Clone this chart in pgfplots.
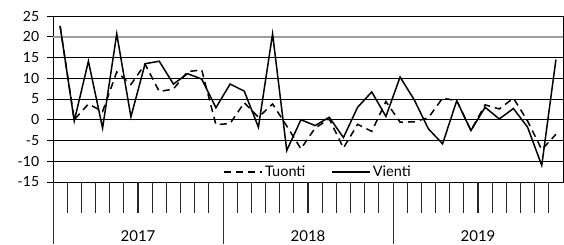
\documentclass[border=0pt]{standalone}
\usepackage{fontspec}
\setmainfont{Lato}
\usepackage{pgfplots}
\usepackage{pgfplotstable}
\pgfplotsset{compat=1.18}
\pgfplotstableread{
i v t
0 22.6 22.6
1 -0.3 0.0
2 14.1 3.8
3 -2.0 2.0
4 20.7 11.5
5 0.7 8.5
6 13.5 13.4
7 14.1 6.8
8 8.6 7.4
9 11.1 11.6
10 9.8 12.0
11 2.9 -1.2
12 8.6 -0.9
13 6.9 4.1
14 -1.8 0.6
15 20.7 3.8
16 -7.4 -1.5
17 0.0 -7.0
18 -1.4 -2.0
19 0.6 0.2
20 -4.3 -6.8
21 3.0 -1.1
22 6.7 -2.8
23 0.8 4.4
24 10.3 -0.6
25 4.8 -0.5
26 -2.2 0.5
27 -5.8 5.2
28 4.6 4.6
29 -2.6 -2.6
30 3.0 3.6
31 0.2 2.6
32 2.7 5.2
33 -1.8 -0.3
34 -11.0 -7.2
35 14.5 -3.5
}\data
\begin{document}
\fontsize{14}{16}\selectfont
\begin{tikzpicture}
\useasboundingbox (-53pt,-62pt) rectangle (511pt,182pt);
\begin{axis}[
  at={(0,0)}, anchor=south west,
  scale only axis, width=510pt, height=166pt,
  xmin=-0.5, xmax=35.5, ymin=-15, ymax=25,
  ytick={-15,-10,-5,0,5,10,15,25},
  extra y ticks={20},
  extra y tick style={grid style={gray!75,line width=1.6pt}},
  ymajorgrids,
  grid style={black,line width=0.7pt},
  xtick=\empty,
  major tick length=6pt, tick align=outside,
  every major tick/.append style={line width=0.7pt, black},
  axis line style={line width=0.8pt},
  x axis line style={line width=1.3pt},
  /pgf/number format/assume math mode=true,
  yticklabel style={font=\fontsize{14}{16}\selectfont, xshift=-3pt},
  clip=false,
  legend style={at={(0.52,0.06)}, anchor=center, draw=none, fill=none,
    legend columns=2, font=\fontsize{14.5}{16}\selectfont,
    /tikz/every even column/.append style={column sep=24pt},
    /tikz/every odd column/.append style={column sep=0pt},
    inner sep=0pt},
  legend image code/.code={\draw[#1] (0pt,0pt) -- (38pt,0pt);},
]
\addplot[black, line width=1.5pt, dash pattern=on 7pt off 5pt] table[x=i,y=t] {\data};
\addlegendentry{Tuonti}
\addplot[black, line width=1.5pt] table[x=i,y=v] {\data};
\addlegendentry{Vienti}
\pgfplotsinvokeforeach{0.5,1.5,2.5,3.5,4.5,5.5,6.5,7.5,8.5,9.5,10.5,12.5,13.5,14.5,15.5,16.5,17.5,18.5,19.5,20.5,21.5,22.5,24.5,25.5,26.5,27.5,28.5,29.5,30.5,31.5,32.5,33.5,34.5}{
  \draw[line width=1.1pt, black!85] (axis cs:#1,-15) -- ([yshift=-31pt]axis cs:#1,-15);
}
\pgfplotsinvokeforeach{-0.5,11.5,23.5}{
  \draw[line width=0.9pt, black!80] (axis cs:#1,-15) -- ([yshift=-62pt]axis cs:#1,-15);
}
\node[font=\fontsize{15}{16}\selectfont] at ([yshift=-54pt]axis cs:5.5,-15) {2017};
\node[font=\fontsize{15}{16}\selectfont] at ([yshift=-54pt]axis cs:17.5,-15) {2018};
\node[font=\fontsize{15}{16}\selectfont] at ([yshift=-54pt]axis cs:29.5,-15) {2019};
\end{axis}
\end{tikzpicture}
\end{document}
